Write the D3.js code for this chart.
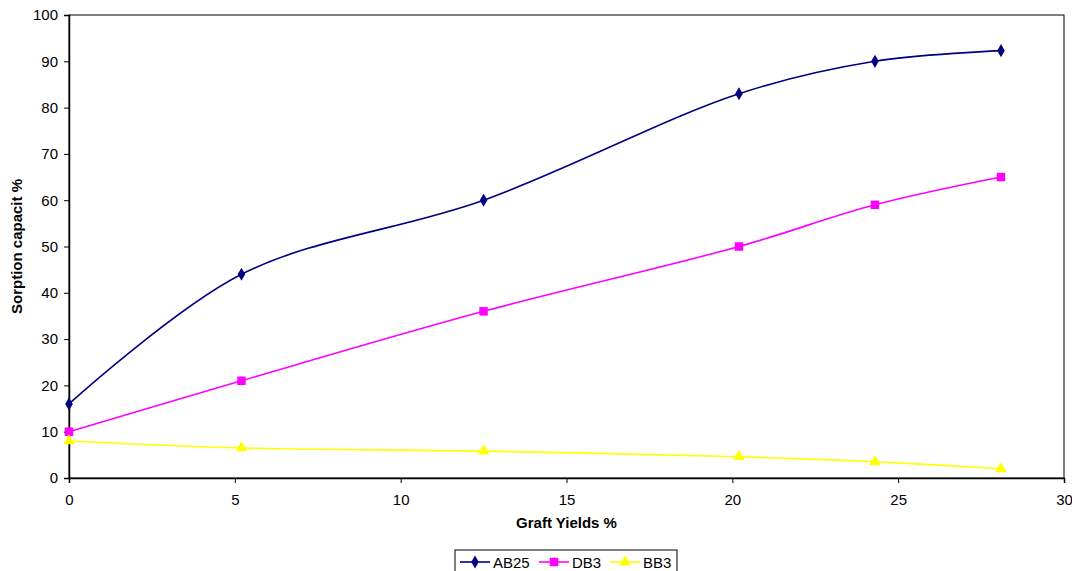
<!DOCTYPE html>
<html>
<head>
<meta charset="utf-8">
<script src="https://cdn.jsdelivr.net/npm/d3@7"></script>
<style>
  body { margin: 0; background: #fff; }
  svg { display: block; font-family: "Liberation Sans", Arial, sans-serif; }
</style>
</head>
<body>
<svg id="chart" width="1072" height="571"></svg>
<script>
var yields = [0, 5.2, 12.5, 20.2, 24.3, 28.1];
var ab25 = [16, 44, 60, 83, 90, 92.3];
var db3 = [10, 21, 36, 50, 59, 65];
var bb3 = [8, 6.5, 5.8, 4.6, 3.5, 2];
var xTicks = [0, 5, 10, 15, 20, 25, 30];
var yTicks = [0, 10, 20, 30, 40, 50, 60, 70, 80, 90, 100];

var series = [
  { name: "AB25", values: ab25, color: "#000080", marker: d3.symbolDiamond, size: 50 },
  { name: "DB3", values: db3, color: "#ff00ff", marker: d3.symbolSquare, size: 72 },
  { name: "BB3", values: bb3, color: "#ffff00", marker: d3.symbolTriangle, size: 60 }
];

var margin = { left: 69, top: 15, right: 8, bottom: 93 };
var W = 1072, H = 571;
var x = d3.scaleLinear().domain([0, 30]).range([margin.left, W - margin.right]);
var y = d3.scaleLinear().domain([0, 100]).range([H - margin.bottom, margin.top]);

var svg = d3.select("#chart");

// plot frame
svg.append("rect")
  .attr("x", x(0)).attr("y", y(100))
  .attr("width", x(30) - x(0)).attr("height", y(0) - y(100))
  .attr("fill", "none").attr("stroke", "#000").attr("stroke-width", 1);

var xAxis = svg.append("g")
  .attr("transform", "translate(0," + y(0) + ")")
  .call(d3.axisBottom(x).tickValues(xTicks).tickSize(5).tickPadding(11));
var yAxis = svg.append("g")
  .attr("transform", "translate(" + x(0) + ",0)")
  .call(d3.axisLeft(y).tickValues(yTicks).tickSize(5).tickPadding(6));
[xAxis, yAxis].forEach(function (a) {
  a.select(".domain").attr("stroke", "#000").attr("stroke-width", 1.5);
  a.selectAll(".tick line").attr("stroke", "#000");
  a.selectAll(".tick text").attr("fill", "#000").style("font-size", "15px")
    .style("font-family", "'Liberation Sans', Arial, sans-serif");
});

svg.append("text")
  .attr("x", (x(0) + x(30)) / 2).attr("y", 528)
  .attr("text-anchor", "middle")
  .style("font-size", "15px").style("font-weight", "bold")
  .text("Graft Yields %");
svg.append("text")
  .attr("transform", "translate(22," + ((y(0) + y(100)) / 2) + ") rotate(-90)")
  .attr("text-anchor", "middle")
  .style("font-size", "15px").style("font-weight", "bold")
  .text("Sorption capacit %");

var line = d3.line()
  .x(function (d, i) { return x(yields[i]); })
  .y(function (d) { return y(d); })
  .curve(d3.curveCatmullRom.alpha(0.5));

series.forEach(function (s) {
  svg.append("path")
    .attr("d", line(s.values))
    .attr("fill", "none")
    .attr("stroke", s.color)
    .attr("stroke-width", 1.6);
  svg.selectAll(null)
    .data(s.values)
    .join("path")
    .attr("transform", function (d, i) { return "translate(" + x(yields[i]) + "," + y(d) + ")"; })
    .attr("d", d3.symbol().type(s.marker).size(s.size))
    .attr("fill", s.color);
});

// legend
var lg = svg.append("g").attr("transform", "translate(455,550)");
lg.append("rect")
  .attr("width", 222).attr("height", 26)
  .attr("fill", "#fff").attr("stroke", "#000").attr("stroke-width", 1);
var legendX = [5, 84, 155];
series.forEach(function (s, i) {
  var g = lg.append("g").attr("transform", "translate(" + legendX[i] + ",12)");
  g.append("line").attr("x1", 0).attr("x2", 30).attr("y1", 0).attr("y2", 0)
    .attr("stroke", s.color).attr("stroke-width", 1.6);
  g.append("path").attr("transform", "translate(15,0)")
    .attr("d", d3.symbol().type(s.marker).size(s.size)).attr("fill", s.color);
  g.append("text").attr("x", 33).attr("y", 5.5)
    .style("font-size", "15px").text(s.name);
});
</script>
</body>
</html>
